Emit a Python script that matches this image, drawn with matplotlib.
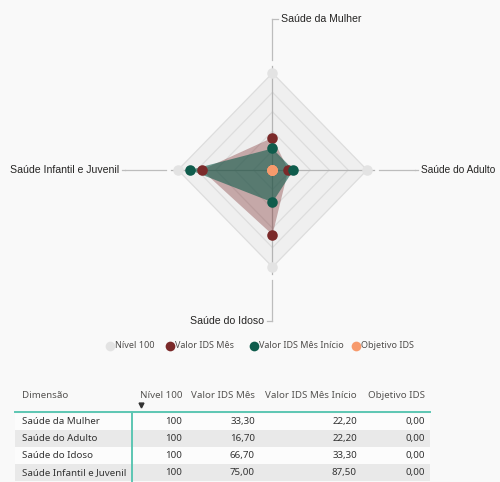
import numpy as np
import matplotlib
matplotlib.use('Agg')
import matplotlib.pyplot as plt

# dados do IDS por dimensão
dimensoes = ['Saúde da Mulher', 'Saúde do Adulto', 'Saúde do Idoso', 'Saúde Infantil e Juvenil']
nivel_100 = [100, 100, 100, 100]
valor_mes = [33.30, 16.70, 66.70, 75.00]
valor_inicio = [22.20, 22.20, 33.30, 87.50]
objetivo = [0.00, 0.00, 0.00, 0.00]

series_nomes = ['Nível 100', 'Valor IDS Mês', 'Valor IDS Mês Início', 'Objetivo IDS']
series_cores = ['#e3e3e3', '#7b2a2a', '#0f5c4c', '#f79a6c']

BG = '#f9f9f9'
W, H = 500, 482
plt.rcParams['font.family'] = ['Liberation Sans', 'DejaVu Sans']

fig = plt.figure(figsize=(W / 100, H / 100), dpi=100, facecolor=BG)

# eixo auxiliar em pixels para legenda e tabela
pix = fig.add_axes([0, 0, 1, 1])
pix.set_xlim(0, W)
pix.set_ylim(H, 0)
pix.axis('off')

# eixo do radar (unidades de valor, centro em 0,0)
cx, cy, sx, sy = 272.5, 170, 0.945, 0.97
top_px = 340
rad = fig.add_axes([0, (H - top_px) / H, 1, top_px / H])
rad.set_xlim(-cx / sx, (W - cx) / sx)
rad.set_ylim((cy - top_px) / sy, cy / sy)
rad.axis('off')
rad.patch.set_alpha(0)

ang = np.deg2rad([90, 0, 270, 180])
ux, uy = np.cos(ang), np.sin(ang)


def poly(vals):
    v = np.asarray(vals, float)
    x, y = v * ux, v * uy
    return np.append(x, x[0]), np.append(y, y[0])


# área do nível 100 e anéis da grade
px_, py_ = poly(nivel_100)
rad.fill(px_, py_, color='#efefef', lw=0, zorder=1)
for lv in [20, 40, 60, 80, 100]:
    gx, gy = poly([lv] * 4)
    rad.plot(gx, gy, color='#dddddd', lw=0.9, zorder=2)

# eixos radiais e linhas de chamada
leader_end = [156, 151, 156, 156]
for i, nome in enumerate(dimensoes):
    dx, dy = ux[i], uy[i]
    le = leader_end[i]
    rad.plot([0, 107 * dx], [0, 107 * dy], color='#b4b4b4', lw=0.9, zorder=2)
    rad.plot([113 * dx, le * dx], [113 * dy, le * dy], color='#bdbdbd', lw=0.9, zorder=2)
    if abs(dy) > 0.5:
        sgn = 1 if dy > 0 else -1
        yy = le * dy
        rad.plot([0, 6 * sgn], [yy, yy], color='#bdbdbd', lw=0.9)
        rad.text(9.5 * sgn, yy, nome, ha='left' if sgn > 0 else 'right', va='center',
                 fontsize=7.6, color='#252423')
    else:
        sgn = 1 if dx > 0 else -1
        rad.plot([le * dx, (le + 3) * dx], [0, 0], color='#bdbdbd', lw=0.9)
        rad.text((le + 6) * sgn, 0, nome, ha='left' if sgn > 0 else 'right', va='center',
                 fontsize=7.6 if sgn < 0 else 7.3, color='#252423')

# áreas das séries
mx, my = poly(valor_mes)
rad.fill(mx, my, color=series_cores[1], alpha=0.36, lw=0, zorder=3)
ix, iy = poly(valor_inicio)
rad.fill(ix, iy, color=series_cores[2], alpha=0.6, lw=0, zorder=4)

# marcadores
for k, vals in enumerate([nivel_100, valor_mes, valor_inicio, objetivo]):
    v = np.asarray(vals, float)
    rad.plot(v * ux, v * uy, 'o', ms=7.6, mfc=series_cores[k], mec='none', zorder=5 + k)

# legenda
leg_x = [110, 170, 254, 356]
for x, nome, cor in zip(leg_x, series_nomes, series_cores):
    pix.plot([x], [346], 'o', ms=7, mfc=cor, mec='none')
    pix.text(x + 5, 346, nome, ha='left', va='center', fontsize=6.5,
             family=['Noto Sans', 'DejaVu Sans'], color='#4f4d4b')

# tabela
tab_font = dict(fontsize=7.0, family=['Noto Sans', 'DejaVu Sans'])
cab = ['Dimensão'] + series_nomes
col_dir = [182, 255, 357, 425]
pix.text(22, 396, cab[0], ha='left', va='center', color='#555351', **tab_font)
for x, t in zip(col_dir, cab[1:]):
    pix.text(x, 396, t, ha='right', va='center', color='#555351', **tab_font)
pix.plot([141], [405], 'v', ms=3.5, color='#333333')

row_h = 16.8
y0 = 413.5
colunas = [nivel_100, valor_mes, valor_inicio, objetivo]
for r, nome in enumerate(dimensoes):
    top = y0 + r * row_h
    cor_fundo = '#e9e9e9' if r % 2 == 1 else '#fcfcfc'
    pix.add_patch(plt.Rectangle((15, top), 415, row_h, color=cor_fundo, lw=0))
    yc = top + row_h / 2
    pix.text(22, yc, nome, ha='left', va='center', color='#333333', **tab_font)
    for c, (x, vals) in enumerate(zip(col_dir, colunas)):
        s = f'{vals[r]:.0f}' if c == 0 else f'{vals[r]:.2f}'.replace('.', ',')
        pix.text(x, yc, s, ha='right', va='center', color='#333333', **tab_font)

pix.plot([15, 430], [412, 412], color='#5cc6b3', lw=1.4)
pix.plot([132, 132], [412, 482], color='#5cc6b3', lw=1.4)

fig.savefig('out.png', dpi=100, facecolor=BG)
